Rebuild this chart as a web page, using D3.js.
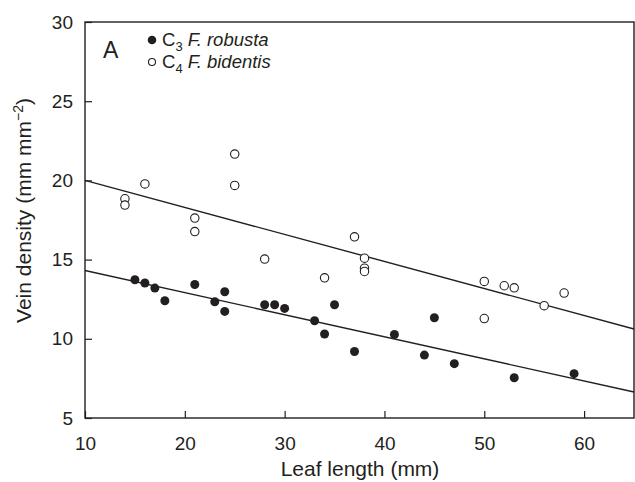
<!DOCTYPE html>
<html>
<head>
<meta charset="utf-8">
<script src="https://cdn.jsdelivr.net/npm/d3@7"></script>
<style>
  body { margin: 0; background: white; }
  text { font-family: "Liberation Sans", Arial, sans-serif; fill: #231f20; }
</style>
</head>
<body>
<div id="container"></div>
<script>
let w = 635;
let h = 482;
let margin = {left: 85, right: 1, top: 22, bottom: 64};

// DATA
let c3Length  = [15, 16, 17, 18, 21, 23, 24, 24, 28, 29, 30, 33, 34, 35, 37, 41, 44, 45, 47, 53, 59];
let c3Density = [13.73, 13.52, 13.2, 12.4, 13.43, 12.34, 12.97, 11.73, 12.15, 12.15, 11.92, 11.14, 10.3, 12.15, 9.2, 10.27, 8.97, 11.33, 8.43, 7.54, 7.8];
let c4Length  = [14, 14, 16, 21, 21, 25, 25, 28, 34, 37, 38, 38, 38, 50, 50, 52, 53, 56, 58];
let c4Density = [18.84, 18.44, 19.78, 17.62, 16.77, 21.66, 19.68, 15.03, 13.85, 16.44, 15.09, 14.46, 14.25, 13.62, 11.28, 13.35, 13.22, 12.09, 12.89];

// regression lines (end points)
let fitLength = [10, 65];
let c3Fit = [14.31, 6.64];
let c4Fit = [20.0, 10.62];

let xTicks = [10, 20, 30, 40, 50, 60];
let yTicks = [5, 10, 15, 20, 25, 30];

let viz = d3.select("#container").append("svg")
    .attr("width", w)
    .attr("height", h)
    .style("background-color", "white");

let xScale = d3.scaleLinear().domain([10, 65]).range([margin.left, w - margin.right]);
let yScale = d3.scaleLinear().domain([5, 30]).range([h - margin.bottom, margin.top]);

// AXES (ticks point inward)
let xAxis = d3.axisBottom(xScale).tickValues(xTicks).tickSizeInner(-7).tickSizeOuter(0).tickPadding(19);
let yAxis = d3.axisLeft(yScale).tickValues(yTicks).tickSizeInner(-7).tickSizeOuter(0).tickPadding(12);

let gx = viz.append("g")
    .attr("transform", "translate(0," + (h - margin.bottom) + ")")
    .call(xAxis);
let gy = viz.append("g")
    .attr("transform", "translate(" + margin.left + ",0)")
    .call(yAxis);

[gx, gy].forEach(function(g){
  g.select(".domain").remove();
  g.selectAll(".tick line").attr("stroke", "#231f20").attr("stroke-width", 1.2);
  g.selectAll(".tick text")
    .style("font-family", "Liberation Sans, Arial, sans-serif")
    .style("font-size", "19px")
    .attr("fill", "#231f20");
});

// frame
viz.append("rect")
  .attr("x", xScale(10))
  .attr("y", yScale(30))
  .attr("width", xScale(65) - xScale(10))
  .attr("height", yScale(5) - yScale(30))
  .attr("fill", "none")
  .attr("stroke", "#231f20")
  .attr("stroke-width", 1.4);

// fit lines
let lineMaker = d3.line()
    .x(function(d){ return xScale(d[0]); })
    .y(function(d){ return yScale(d[1]); });

[c3Fit, c4Fit].forEach(function(fit){
  viz.append("path")
    .attr("d", lineMaker(fitLength.map(function(x, i){ return [x, fit[i]]; })))
    .attr("fill", "none")
    .attr("stroke", "#231f20")
    .attr("stroke-width", 1.4);
});

// points
let c3 = c3Length.map(function(d, i){ return {x: d, y: c3Density[i]}; });
let c4 = c4Length.map(function(d, i){ return {x: d, y: c4Density[i]}; });

viz.selectAll(".c4").data(c4).enter()
  .append("circle")
    .attr("class", "c4")
    .attr("cx", function(d){ return xScale(d.x); })
    .attr("cy", function(d){ return yScale(d.y); })
    .attr("r", 4.2)
    .attr("fill", "white")
    .attr("stroke", "#231f20")
    .attr("stroke-width", 1.1);

viz.selectAll(".c3").data(c3).enter()
  .append("circle")
    .attr("class", "c3")
    .attr("cx", function(d){ return xScale(d.x); })
    .attr("cy", function(d){ return yScale(d.y); })
    .attr("r", 4.5)
    .attr("fill", "#231f20");

// panel letter
viz.append("text")
  .attr("x", 103)
  .attr("y", 58)
  .style("font-size", "23px")
  .text("A");

// legend
viz.append("circle").attr("cx", 152).attr("cy", 40).attr("r", 4.3).attr("fill", "#231f20");
viz.append("circle").attr("cx", 152).attr("cy", 62).attr("r", 3.5)
  .attr("fill", "white").attr("stroke", "#231f20").attr("stroke-width", 1.1);

let legendRows = [
  {c: "C", sub: "3", name: "F. robusta", y: 46},
  {c: "C", sub: "4", name: "F. bidentis", y: 68}
];
legendRows.forEach(function(r){
  let t = viz.append("text")
    .attr("x", 162)
    .attr("y", r.y)
    .style("font-size", "18.5px");
  t.append("tspan").text(r.c);
  t.append("tspan").attr("dy", 5).style("font-size", "13px").text(r.sub);
  t.append("tspan").attr("dy", -5).text(" ");
  t.append("tspan").style("font-style", "italic").text(r.name);
});

// axis titles
viz.append("text")
  .attr("x", 360)
  .attr("y", 476)
  .attr("text-anchor", "middle")
  .style("font-size", "21px")
  .text("Leaf length (mm)");

let yt = viz.append("text")
  .attr("transform", "translate(31," + yScale(18.1) + ") rotate(-90)")
  .attr("text-anchor", "middle")
  .style("font-size", "21px");
yt.append("tspan").text("Vein density (mm mm");
yt.append("tspan").attr("dy", -8).style("font-size", "14px").text("\u22122");
yt.append("tspan").attr("dy", 8).text(")");
</script>
</body>
</html>
